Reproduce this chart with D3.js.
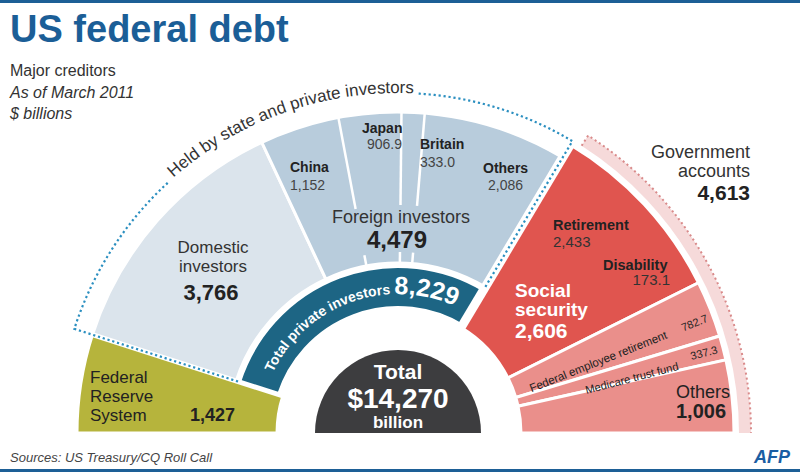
<!DOCTYPE html>
<html>
<head>
<meta charset="utf-8">
<script src="https://cdn.jsdelivr.net/npm/d3@7"></script>
<style>
  body { margin: 0; background: #fff; }
  svg { display: block; font-family: "Liberation Sans", Arial, sans-serif; }
</style>
</head>
<body>
<svg width="800" height="472"></svg>
<script>
// half-ring segments, left to right
const segments = ["Federal Reserve System", "Domestic investors", "Foreign investors",
  "Social security", "Federal employee retirement", "Medicare trust fund", "Others"];
const segmentValues = [1427, 3766, 4479, 2606, 782.7, 337.3, 1006];

// foreign investors split
const foreignCountries = ["China", "Japan", "Britain", "Others"];
const foreignValues = [1152, 906.9, 333.0, 2086];

// social security split
const socialParts = ["Retirement", "Disability"];
const socialValues = [2433, 173.1];

const privateTotal = 8229;
const governmentTotal = 4613;
const grandTotal = 14270;

const cx = 398, cy = 433;
const svg = d3.select("svg");
const fmt = d3.format(",");
const fmt1 = d3.format(".1f");

const pie = d3.pie().sort(null).startAngle(-Math.PI / 2).endAngle(Math.PI / 2);
const slices = pie(segmentValues);
const angle = d3.scaleLinear()
  .domain([0, d3.sum(segmentValues)])
  .range([-Math.PI / 2, Math.PI / 2]);

const inner = [121, 170, 170, 123, 123, 123, 123];
const outer = [321, 321, 321, 336, 336, 336, 336];
const colors = ["#b6b43c", "#dbe4ec", "#b8ccdc", "#e0554f", "#ea8f8b", "#ea8f8b", "#ea8f8b"];

const pt = (r, a) => [r * Math.sin(a), -r * Math.cos(a)];
const arc = d3.arc();

// frame lines
svg.append("rect").attr("x", 0).attr("y", 0).attr("width", 800).attr("height", 3).attr("fill", "#1d5f96");
svg.append("rect").attr("x", 0).attr("y", 469).attr("width", 800).attr("height", 3).attr("fill", "#1d5f96");

const g = svg.append("g").attr("transform", `translate(${cx},${cy})`);

// main segments
g.selectAll("path.seg")
  .data(slices)
  .join("path")
  .attr("class", "seg")
  .attr("d", (d, i) => arc({ innerRadius: inner[i], outerRadius: outer[i], startAngle: d.startAngle, endAngle: d.endAngle }))
  .attr("fill", (d, i) => colors[i])
  .attr("stroke", "#fff")
  .attr("stroke-width", 3);

// private investors ring
g.append("path")
  .attr("d", arc({ innerRadius: 126, outerRadius: 166, startAngle: slices[1].startAngle, endAngle: slices[2].endAngle }))
  .attr("fill", "#1d6584")
  .attr("stroke", "#fff")
  .attr("stroke-width", 2);

// centre
g.append("path")
  .attr("d", arc({ innerRadius: 0, outerRadius: 83, startAngle: -Math.PI / 2, endAngle: Math.PI / 2 }))
  .attr("fill", "#3d3d3f");

// wider white gaps at the group edges
[[slices[1].startAngle, 121, 330, 5], [slices[3].startAngle, 120, 338, 9]].forEach(([a, r0, r1, w]) => {
  g.append("line")
    .attr("x1", pt(r0, a)[0]).attr("y1", pt(r0, a)[1])
    .attr("x2", pt(r1, a)[0]).attr("y2", pt(r1, a)[1])
    .attr("stroke", "#fff").attr("stroke-width", w);
});

// foreign split lines (broken around the label)
const foreignStart = d3.sum(segmentValues.slice(0, 2));
const cum = d3.cumsum(foreignValues).slice(0, 3);
cum.forEach(c => {
  const a = angle(foreignStart + c);
  [[228, 321], [170, 181]].forEach(([r0, r1]) => {
    g.append("line")
      .attr("x1", pt(r0, a)[0]).attr("y1", pt(r0, a)[1])
      .attr("x2", pt(r1, a)[0]).attr("y2", pt(r1, a)[1])
      .attr("stroke", "#fff").attr("stroke-width", 2.5);
  });
});

// government accounts band
const bandStart = slices[3].startAngle + 0.03;
g.append("path")
  .attr("d", arc({ innerRadius: 341, outerRadius: 353, startAngle: bandStart, endAngle: Math.PI / 2 }))
  .attr("fill", "#f6dada");
const bp = d3.path();
bp.moveTo(...pt(341, bandStart));
bp.lineTo(...pt(353, bandStart));
bp.arc(0, 0, 353, bandStart - Math.PI / 2, 0, false);
g.append("path").attr("d", bp.toString())
  .attr("fill", "none").attr("stroke", "#d98a8a").attr("stroke-width", 2).attr("stroke-dasharray", "2,3");

// held by state and private investors
const R = 340, rin = 168;
g.append("path").attr("id", "heldArc")
  .attr("d", `M ${-R},0 A ${R},${R} 0 0 1 ${R},0`).attr("fill", "none");
const heldCenter = -0.338;
const held = g.append("text")
  .attr("font-size", 17).attr("fill", "#333")
  .append("textPath")
  .attr("href", "#heldArc")
  .attr("startOffset", R * (heldCenter + Math.PI / 2))
  .attr("text-anchor", "middle")
  .text("Held by state and private investors");
const heldLen = held.node().getComputedTextLength();
const halfA = (heldLen / 2 + 5) / R;
const a0 = slices[1].startAngle, a1 = slices[2].endAngle;
const dl = d3.path();
dl.moveTo(...pt(rin, a0));
dl.lineTo(...pt(R, a0));
dl.arc(0, 0, R, a0 - Math.PI / 2, heldCenter - halfA - Math.PI / 2, false);
const dr = d3.path();
dr.moveTo(...pt(R, heldCenter + halfA));
dr.arc(0, 0, R, heldCenter + halfA - Math.PI / 2, a1 - Math.PI / 2, false);
dr.lineTo(...pt(rin, a1));
[dl, dr].forEach(p => g.append("path").attr("d", p.toString())
  .attr("fill", "none").attr("stroke", "#2b8fc0").attr("stroke-width", 2.2).attr("stroke-dasharray", "2.2,2.8"));

// ring text
const RT = 139;
g.append("path").attr("id", "ringArc")
  .attr("d", `M ${-RT},0 A ${RT},${RT} 0 0 1 ${RT},0`).attr("fill", "none");
const ringCenter = -0.35;
const rt = g.append("text").attr("fill", "#fff").attr("font-weight", "bold")
  .append("textPath").attr("href", "#ringArc")
  .attr("startOffset", RT * (ringCenter + Math.PI / 2))
  .attr("text-anchor", "middle");
rt.append("tspan").attr("font-size", 14).text("Total private investors ");
rt.append("tspan").attr("font-size", 25).text(fmt(privateTotal));

// helper for plain labels
function label(x, y, txt, size, opts = {}) {
  return svg.append("text")
    .attr("x", x).attr("y", y)
    .attr("font-size", size)
    .attr("font-weight", opts.bold ? "bold" : "normal")
    .attr("font-style", opts.italic ? "italic" : "normal")
    .attr("text-anchor", opts.anchor || "start")
    .attr("fill", opts.fill || "#222")
    .text(txt);
}

// title block
label(10, 42, "US federal debt", 38, { bold: true, fill: "#1b5e97" });
label(10, 76, "Major creditors", 16, { fill: "#333" });
label(10, 98, "As of March 2011", 16, { italic: true, fill: "#333" });
label(10, 119, "$ billions", 16, { italic: true, fill: "#333" });

// federal reserve
const fedLines = segments[0].split(" ");
fedLines.forEach((t, i) => label(90, 383 + i * 19, t, 17));
label(190, 421, fmt(segmentValues[0]), 18, { bold: true });

// domestic
label(213, 253, "Domestic", 17, { anchor: "middle", fill: "#333" });
label(213, 272, "investors", 17, { anchor: "middle", fill: "#333" });
label(211, 300, fmt(segmentValues[1]), 22, { bold: true, anchor: "middle" });

// foreign
const countryPos = [[290, 172, 290, 190], [362, 133, 367, 149], [420, 149, 420, 167], [483, 173, 488, 190]];
foreignCountries.forEach((c, i) => {
  label(countryPos[i][0], countryPos[i][1], c, 14, { bold: true });
  const v = foreignValues[i];
  label(countryPos[i][2], countryPos[i][3], Number.isInteger(v) && v > 999 ? fmt(v) : fmt1(v), 14, { fill: "#444" });
});
label(401, 223, "Foreign investors", 18, { anchor: "middle", fill: "#333" });
label(397, 248, fmt(segmentValues[2]), 24, { bold: true, anchor: "middle" });

// centre total
label(cx, 379, "Total", 21, { bold: true, anchor: "middle", fill: "#fff" });
label(cx, 408, "$" + fmt(grandTotal), 28, { bold: true, anchor: "middle", fill: "#fff" });
label(cx, 428, "billion", 17, { bold: true, anchor: "middle", fill: "#fff" });

// government accounts
label(750, 158, "Government", 18, { anchor: "end", fill: "#333" });
label(750, 177, "accounts", 18, { anchor: "end", fill: "#333" });
label(750, 200, fmt(governmentTotal), 21, { bold: true, anchor: "end" });

// social security
label(553, 230, socialParts[0], 14.5, { bold: true });
label(553, 247, fmt(socialValues[0]), 15, { fill: "#333" });
label(603, 270, socialParts[1], 14.5, { bold: true });
label(670, 285, fmt1(socialValues[1]), 15, { anchor: "end", fill: "#333" });
label(515, 297, "Social", 19, { bold: true, fill: "#fff" });
label(515, 316, "security", 19, { bold: true, fill: "#fff" });
label(515, 338, fmt(segmentValues[3]), 21, { bold: true, fill: "#fff" });

// thin rotated segments
[[4, 286, "1em", 11.5], [5, 288, "0.9em", 11.2]].forEach(([i, rEnd, dy, fs]) => {
  const s = slices[i];
  const mid = (s.startAngle + s.endAngle) / 2;
  const rot = mid * 180 / Math.PI - 90;
  const [lx, ly] = pt(rEnd, mid);
  g.append("text")
    .attr("transform", `translate(${lx},${ly}) rotate(${rot})`)
    .attr("text-anchor", "end").attr("dy", dy)
    .attr("font-size", fs).attr("fill", "#222")
    .text(segments[i]);
  const [nx, ny] = pt(330, mid);
  g.append("text")
    .attr("transform", `translate(${nx},${ny}) rotate(${rot})`)
    .attr("text-anchor", "end").attr("dy", i === 4 ? "1em" : "0.35em")
    .attr("font-size", 11).attr("fill", "#222")
    .text(fmt1(segmentValues[i]));
});

// others (government)
label(676, 398, segments[6], 18, { fill: "#222" });
label(676, 418, fmt(segmentValues[6]), 20, { bold: true });

// footer
label(10, 462, "Sources: US Treasury/CQ Roll Call", 13, { italic: true, fill: "#444" });
label(790, 463, "AFP", 18, { bold: true, italic: true, anchor: "end", fill: "#1a5ea3" });
</script>
</body>
</html>
